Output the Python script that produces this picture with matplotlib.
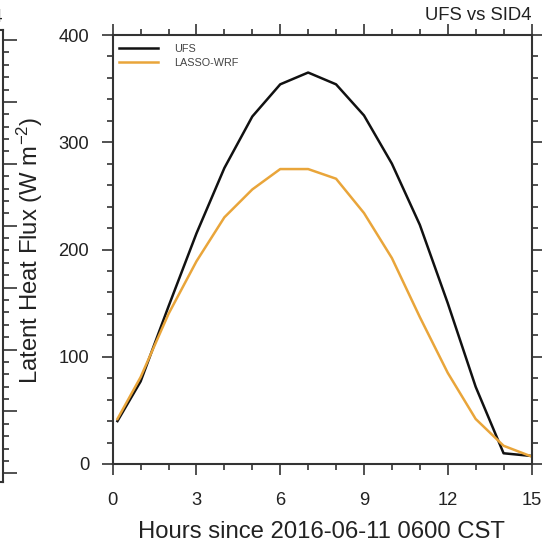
import matplotlib
matplotlib.use('Agg')
import matplotlib.pyplot as plt
from matplotlib.ticker import MultipleLocator

plt.rcParams['font.family'] = ['Liberation Sans', 'DejaVu Sans']
plt.rcParams['mathtext.default'] = 'regular'

# ------------------------------------------------------------
# Data (hours since 2016-06-11 0600 CST)
# ------------------------------------------------------------
hours = [0.17, 1, 2, 3, 4, 5, 6, 7, 8, 9, 10, 11, 12, 13, 14, 15]
ufs = [40, 77, 147, 215, 276, 324, 354, 365, 354, 325, 280, 223, 150, 72, 10, 7.5]
lasso_wrf = [42, 81, 140, 189, 230, 256, 275, 275, 266, 234, 192, 137, 85, 42, 17, 7]

series_names = ['UFS', 'LASSO-WRF']
series_colors = ['#111111', '#E9A53A']

W, H = 542, 545
fig = plt.figure(figsize=(W / 100, H / 100), dpi=100)

axis_col = '#333333'
text_col = '#222222'


def px_box(left, top, right, bottom):
    return [left / W, 1 - bottom / H, (right - left) / W, (bottom - top) / H]


# neighbour panel, only its right edge is visible
axl = fig.add_axes(px_box(-300, 30, 3, 482))
axl.set_ylim(-7, 358.1)
axl.yaxis.set_major_locator(MultipleLocator(50))
axl.yaxis.set_minor_locator(MultipleLocator(10))
axl.tick_params(axis='y', which='both', left=False, right=True, labelleft=False,
                direction='out', color=axis_col, width=1.2)
axl.tick_params(axis='y', which='major', length=10)
axl.tick_params(axis='y', which='minor', length=4.5)
axl.tick_params(axis='x', bottom=False, labelbottom=False)
for s in axl.spines.values():
    s.set_color(axis_col)
    s.set_linewidth(1.5)
fig.text(3 / W, 1 - 22 / H, 'UFS vs SID4', ha='right', va='baseline', fontsize=13.3, color=text_col)

# main panel
ax = fig.add_axes(px_box(112.7, 35, 531.5, 464))
ax.plot(hours, ufs, color=series_colors[0], linewidth=1.8, label=series_names[0])
ax.plot(hours, lasso_wrf, color=series_colors[1], linewidth=1.8, label=series_names[1])

ax.set_xlim(0, 15)
ax.set_ylim(0, 400)
ax.xaxis.set_major_locator(MultipleLocator(3))
ax.xaxis.set_minor_locator(MultipleLocator(1))
ax.yaxis.set_major_locator(MultipleLocator(100))
ax.yaxis.set_minor_locator(MultipleLocator(20))
ax.tick_params(which='both', direction='out', top=True, right=True, color=axis_col, width=1.2,
               labelcolor=text_col, labelsize=13.2)
ax.tick_params(which='major', length=8)
ax.tick_params(which='minor', length=4.3)
ax.tick_params(axis='x', which='major', pad=12)
ax.tick_params(axis='y', which='major', pad=9)
for s in ax.spines.values():
    s.set_color(axis_col)
    s.set_linewidth(1.5)

ax.set_title('UFS vs SID4', loc='right', fontsize=13.3, color=text_col, pad=11)

fig.text(38.3 / W, 1 - 250.8 / H, 'Latent Heat Flux (W m$^{-2}$)', rotation=90,
         rotation_mode='anchor', ha='center', va='baseline', fontsize=17.2, color=text_col)
fig.text(321.7 / W, 1 - 538.3 / H, 'Hours since 2016-06-11 0600 CST',
         ha='center', va='baseline', fontsize=17.2, color=text_col)

leg = ax.legend(loc='upper left', bbox_to_anchor=(0.0, 0.995), frameon=False, fontsize=7.8,
                handlelength=3.6, handletextpad=1.5, labelspacing=0.4, borderaxespad=0.2)
for t in leg.get_texts():
    t.set_color('#444444')

fig.savefig('out.png', dpi=100)
